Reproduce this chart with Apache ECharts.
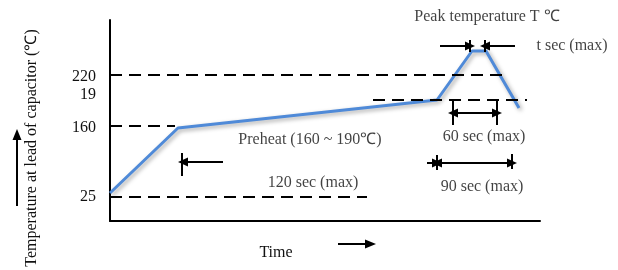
<!DOCTYPE html>
<html>
<head>
<meta charset="utf-8">
<script src="https://cdn.jsdelivr.net/npm/echarts@6/dist/echarts.min.js"></script>
<style>
  html, body { margin: 0; padding: 0; background: #fff; }
  #chart { width: 618px; height: 270px; }
</style>
</head>
<body>
<div id="chart"></div>
<script>
  // schematic reflow profile, x = time units, y = height units (not to scale)
  var profileTime = [0, 68, 327, 362, 376, 409];
  var profileTemp = [28, 93, 121, 170, 170, 113];

  // y tick labels (the "190" label is cut to "19" in the original)
  var yTickLabels = ['25', '160', '19', '220'];
  var yTickLevels = [24, 93, 126, 144];

  // dashed guide lines
  var guideLevel = [146, 121, 95, 24];
  var guideFrom = [0, 263, 0, 0];
  var guideTo = [393, 417, 65, 257];

  // dimension bars (vertical) : x, y1, y2
  var barX = [72, 343, 387, 360, 375, 327, 402];
  var barY1 = [45, 96, 96, 169, 169, 51, 52];
  var barY2 = [68, 121, 121, 181, 181, 66, 67];

  // arrows : from x, to x, y, head at start / end
  var arrowFrom = [113, 343, 330, 405, 317, 327];
  var arrowTo = [73, 387, 360, 375, 327, 402];
  var arrowY = [59, 108, 175, 175, 58, 58];
  var arrowBoth = [false, true, false, false, false, true];

  // annotation texts
  var noteText = ['Peak temperature T ℃', 't sec (max)', 'Preheat (160 ~ 190℃)', '120 sec (max)', '60 sec (max)', '90 sec (max)'];
  var noteX = [377, 462, 200, 203, 374, 372];
  var noteY = [204, 175, 81, 38, 84, 34];

  var font = 'Liberation Serif, Times New Roman, serif';
  var chart = echarts.init(document.getElementById('chart'));

  var guides = [];
  for (var i = 0; i < guideLevel.length; i++) {
    guides.push([{ coord: [guideFrom[i], guideLevel[i]] }, { coord: [guideTo[i], guideLevel[i]] }]);
  }
  var bars = [];
  for (var i = 0; i < barX.length; i++) {
    bars.push([{ coord: [barX[i], barY1[i]], symbol: 'none' }, { coord: [barX[i], barY2[i]], symbol: 'none' }]);
  }
  var arrows = [];
  for (var i = 0; i < arrowFrom.length; i++) {
    arrows.push([
      { coord: [arrowFrom[i], arrowY[i]], symbol: arrowBoth[i] ? 'triangle' : 'none' },
      { coord: [arrowTo[i], arrowY[i]], symbol: 'triangle' }
    ]);
  }
  var profile = profileTime.map(function (t, i) { return [t, profileTemp[i]] });
  var notes = noteText.map(function (s, i) { return [noteX[i], noteY[i], s] });

  var option = {
    animation: false,
    grid: { left: 110, right: 78, top: 20, bottom: 49 },
    xAxis: {
      type: 'value',
      min: 0,
      max: 430,
      axisLine: { lineStyle: { color: '#000', width: 2 } },
      axisTick: { show: false },
      axisLabel: { show: false },
      splitLine: { show: false }
    },
    yAxis: {
      type: 'value',
      min: 0,
      max: 201,
      axisLine: { show: true, lineStyle: { color: '#000', width: 2 } },
      axisTick: { show: false },
      splitLine: { show: false },
      axisLabel: {
        customValues: yTickLevels,
        formatter: function (v) { return yTickLabels[yTickLevels.indexOf(v)] },
        margin: 14,
        color: '#111',
        fontSize: 16,
        fontFamily: font
      }
    },
    series: [{
      name: 'guides',
      type: 'line',
      data: [],
      silent: true,
      markLine: {
        silent: true,
        symbol: 'none',
        label: { show: false },
        lineStyle: { color: '#000', width: 2, type: [12, 7] },
        data: guides
      }
    }, {
      name: 'profile',
      type: 'line',
      data: profile,
      symbol: 'none',
      silent: true,
      lineStyle: {
        color: '#4f8ad8',
        width: 3,
        shadowColor: 'rgba(0,0,0,0.35)',
        shadowBlur: 4,
        shadowOffsetX: 2,
        shadowOffsetY: 2
      },
      z: 3
    }, {
      name: 'dims',
      type: 'line',
      data: [],
      silent: true,
      markLine: {
        silent: true,
        symbolSize: [9, 10],
        label: { show: false },
        lineStyle: { color: '#000', width: 2, type: 'solid' },
        data: bars.concat(arrows)
      }
    }, {
      name: 'notes',
      type: 'scatter',
      data: notes,
      symbolSize: 0,
      silent: true,
      clip: false,
      label: {
        show: true,
        position: 'inside',
        formatter: function (p) { return p.data[2] },
        color: '#111',
        fontSize: 16,
        fontFamily: font
      }
    }],
    graphic: [{
      type: 'text',
      x: 32,
      y: 148,
      rotation: Math.PI / 2,
      style: {
        text: 'Temperature at lead of capacitor (℃)',
        font: '16px ' + font,
        fill: '#111',
        align: 'center',
        verticalAlign: 'middle'
      }
    }, {
      type: 'line',
      shape: { x1: 17, y1: 206, x2: 17, y2: 138 },
      style: { stroke: '#000', lineWidth: 2 }
    }, {
      type: 'polygon',
      shape: { points: [[17, 129], [12.5, 140], [21.5, 140]] },
      style: { fill: '#000' }
    }, {
      type: 'text',
      x: 276,
      y: 253,
      style: { text: 'Time', font: '16px ' + font, fill: '#111', align: 'center', verticalAlign: 'middle' }
    }, {
      type: 'line',
      shape: { x1: 338, y1: 244, x2: 366, y2: 244 },
      style: { stroke: '#000', lineWidth: 2 }
    }, {
      type: 'polygon',
      shape: { points: [[376, 244], [365, 239.5], [365, 248.5]] },
      style: { fill: '#000' }
    }]
  };
  chart.setOption(option);
</script>
</body>
</html>
